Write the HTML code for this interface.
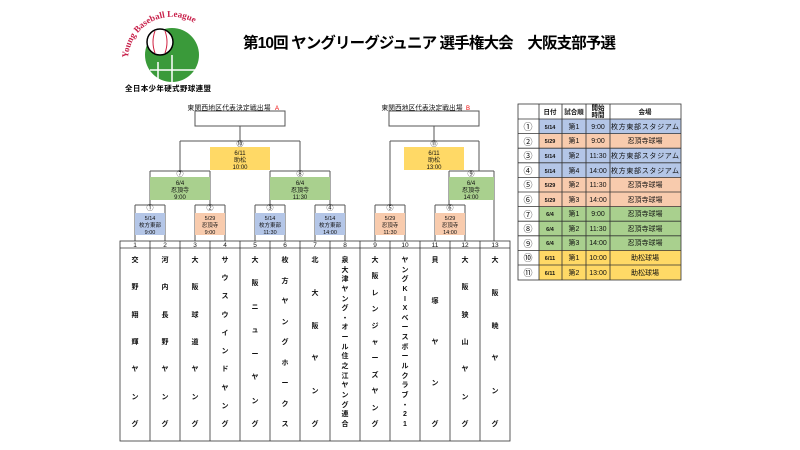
<!DOCTYPE html>
<html><head><meta charset="utf-8"><style>
html,body{margin:0;padding:0;background:#fff;width:800px;height:450px;overflow:hidden}
svg{position:absolute;left:0;top:0}
.t{font-family:"Liberation Sans","Noto Sans CJK JP",sans-serif}
.col{position:absolute;top:257px;height:172px;width:30px;display:flex;flex-direction:column;justify-content:space-between;align-items:center;font-family:"Liberation Sans","Noto Sans CJK JP",sans-serif;font-weight:bold;font-size:7px;line-height:8px;color:#111}
</style></head><body>
<svg width="800" height="450" viewBox="0 0 800 450" class="t">
<!-- logo -->
<circle cx="172" cy="55" r="27" fill="#3a9a3a"/>
<path d="M172 55 L172 82 M150 70 L195 70 M158 62 L158 82" stroke="#fff" stroke-width="1.5" fill="none"/>
<circle cx="160" cy="42" r="13" fill="#fff" stroke="#000" stroke-width="1.5"/>
<path d="M155 31 Q151 42 155 53 M165 31 Q169 42 165 53" stroke="#d02040" stroke-width="1" fill="none"/>
<path id="arc" d="M128 58 A44 44 0 0 1 214 48" fill="none"/>
<text font-family="Liberation Serif,serif" font-size="9" fill="#c8204a" font-weight="bold"><textPath href="#arc">Young Baseball League</textPath></text>
<text x="125" y="91" font-size="7.5" font-weight="bold" textLength="86">全日本少年硬式野球連盟</text>
<!-- title -->
<text x="243" y="48" font-size="15.5" font-weight="bold" textLength="373">第10回 ヤングリーグジュニア 選手権大会　大阪支部予選</text>

<g stroke="#555" stroke-width="1" fill="none">
<rect x="195" y="111" width="90" height="15"/>
<path d="M240 126V141M180 141H300M180 141V171M300 141V171"/>
<path d="M150 171H210M150 171V205M210 171V205M270 171H330M270 171V205M330 171V205"/>
<path d="M135 205H165M135 205V241M165 205V241M195 205H225M195 205V241M225 205V241M255 205H285M255 205V241M285 205V241M315 205H345M315 205V241M345 205V241"/>
<rect x="389" y="111" width="90" height="15"/>
<path d="M434 126V141M390 141H479M390 141V205M479 141V171M449 171H494M449 171V205M494 171V241"/>
<path d="M375 205H405M375 205V241M405 205V241M435 205H465M435 205V241M465 205V241"/>
</g>
<g stroke="none">
<rect x="210" y="147" width="60" height="23" fill="#ffd966"/>
<rect x="150" y="177" width="60" height="23" fill="#a9d08e"/>
<rect x="270" y="177" width="60" height="23" fill="#a9d08e"/>
<rect x="135" y="213" width="30" height="22" fill="#b4c6e7"/>
<rect x="195" y="213" width="30" height="22" fill="#f8cbad"/>
<rect x="255" y="213" width="30" height="22" fill="#b4c6e7"/>
<rect x="315" y="213" width="30" height="22" fill="#b4c6e7"/>
<rect x="404" y="147" width="60" height="23" fill="#ffd966"/>
<rect x="449" y="177" width="45" height="23" fill="#a9d08e"/>
<rect x="375" y="213" width="30" height="22" fill="#f8cbad"/>
<rect x="435" y="213" width="30" height="22" fill="#f8cbad"/>
</g>
<g font-size="6" text-anchor="middle" fill="#111">
<text x="229" y="110" font-size="6.7" textLength="83">東関西地区代表決定戦出場</text><text x="277" y="110" fill="#e00">A</text>
<text x="422" y="110" font-size="6.7" textLength="81">東関西地区代表決定戦出場</text><text x="468" y="110" fill="#e00">B</text>
<g font-size="7"><text x="240" y="146">⑩</text><text x="180" y="176">⑦</text><text x="300" y="176">⑧</text>
<text x="150" y="210">①</text><text x="210" y="210">②</text><text x="270" y="210">③</text><text x="330" y="210">④</text>
<text x="434" y="146">⑪</text><text x="471" y="176">⑨</text><text x="390" y="210">⑤</text><text x="450" y="210">⑥</text></g>
<text x="240" y="155">6/11</text><text x="240" y="162">助松</text><text x="240" y="169">10:00</text>
<text x="180" y="185">6/4</text><text x="180" y="192">忍頂寺</text><text x="180" y="199">9:00</text>
<text x="300" y="185">6/4</text><text x="300" y="192">忍頂寺</text><text x="300" y="199">11:30</text>
<text x="434" y="155">6/11</text><text x="434" y="162">助松</text><text x="434" y="169">13:00</text>
<text x="471" y="185">6/4</text><text x="471" y="192">忍頂寺</text><text x="471" y="199">14:00</text>
<g font-size="5.5">
<text x="150" y="220">5/14</text><text x="150" y="227">枚方東部</text><text x="150" y="234">9:00</text>
<text x="210" y="220">5/29</text><text x="210" y="227">忍頂寺</text><text x="210" y="234">9:00</text>
<text x="270" y="220">5/14</text><text x="270" y="227">枚方東部</text><text x="270" y="234">11:30</text>
<text x="330" y="220">5/14</text><text x="330" y="227">枚方東部</text><text x="330" y="234">14:00</text>
<text x="390" y="220">5/29</text><text x="390" y="227">忍頂寺</text><text x="390" y="234">11:30</text>
<text x="450" y="220">5/29</text><text x="450" y="227">忍頂寺</text><text x="450" y="234">14:00</text>
</g>
<g font-size="6.5">
<text x="135" y="247">1</text><text x="165" y="247">2</text><text x="195" y="247">3</text><text x="225" y="247">4</text><text x="255" y="247">5</text><text x="285" y="247">6</text><text x="315" y="247">7</text><text x="345" y="247">8</text><text x="375" y="247">9</text><text x="405" y="247">10</text><text x="435" y="247">11</text><text x="465" y="247">12</text><text x="495" y="247">13</text>
</g>
</g>
<g stroke="#333" stroke-width="0.8" fill="none">
<rect x="120" y="241" width="390" height="200"/>
<path d="M120 248H510 M150 241V441M180 241V441M210 241V441M240 241V441M270 241V441M300 241V441M330 241V441M360 241V441M390 241V441M420 241V441M450 241V441M480 241V441"/>
</g>

<g stroke="none">
<rect x="539" y="119" width="142" height="14.6" fill="#b4c6e7"/>
<rect x="539" y="133.6" width="142" height="14.6" fill="#f8cbad"/>
<rect x="539" y="148.2" width="142" height="14.6" fill="#b4c6e7"/>
<rect x="539" y="162.8" width="142" height="14.6" fill="#b4c6e7"/>
<rect x="539" y="177.4" width="142" height="14.6" fill="#f8cbad"/>
<rect x="539" y="192" width="142" height="14.6" fill="#f8cbad"/>
<rect x="539" y="206.6" width="142" height="43.8" fill="#a9d08e"/>
<rect x="539" y="250.4" width="142" height="29.6" fill="#ffd966"/>
</g>
<g stroke="#333" stroke-width="0.8" fill="none">
<rect x="518" y="104" width="163" height="176"/>
<path d="M539 104V280M562 104V280M586 104V280M610 104V280"/>
<path d="M518 119H681M518 133.6H681M518 148.2H681M518 162.8H681M518 177.4H681M518 192H681M518 206.6H681M518 221.2H681M518 235.8H681M518 250.4H681M518 265H681"/>
</g>
<g font-size="6.5" text-anchor="middle" fill="#111" font-weight="bold">
<text x="550" y="114">日付</text><text x="574" y="114">試合順</text><text x="598" y="110">開始</text><text x="598" y="117">時間</text><text x="645" y="114">会場</text>
</g>
<g font-size="7" text-anchor="middle" fill="#111">
<g font-size="9"><text x="528" y="130">①</text><text x="528" y="145">②</text><text x="528" y="159">③</text><text x="528" y="174">④</text><text x="528" y="188">⑤</text><text x="528" y="203">⑥</text><text x="528" y="218">⑦</text><text x="528" y="232">⑧</text><text x="528" y="247">⑨</text><text x="528" y="261">⑩</text><text x="528" y="276">⑪</text></g>
<g font-size="5.5" font-weight="bold"><text x="550" y="129">5/14</text><text x="550" y="143">5/29</text><text x="550" y="158">5/14</text><text x="550" y="173">5/14</text><text x="550" y="187">5/29</text><text x="550" y="202">5/29</text><text x="550" y="216">6/4</text><text x="550" y="231">6/4</text><text x="550" y="245">6/4</text><text x="550" y="260">6/11</text><text x="550" y="275">6/11</text></g>
<text x="574" y="129">第1</text><text x="574" y="143">第1</text><text x="574" y="158">第2</text><text x="574" y="173">第4</text><text x="574" y="187">第2</text><text x="574" y="202">第3</text><text x="574" y="216">第1</text><text x="574" y="231">第2</text><text x="574" y="245">第3</text><text x="574" y="260">第1</text><text x="574" y="275">第2</text>
<text x="598" y="129">9:00</text><text x="598" y="143">9:00</text><text x="598" y="158">11:30</text><text x="598" y="173">14:00</text><text x="598" y="187">11:30</text><text x="598" y="202">14:00</text><text x="598" y="216">9:00</text><text x="598" y="231">11:30</text><text x="598" y="245">14:00</text><text x="598" y="260">10:00</text><text x="598" y="275">13:00</text>
<text x="645" y="129" textLength="68">枚方東部スタジアム</text><text x="645" y="143">忍頂寺球場</text><text x="645" y="158" textLength="68">枚方東部スタジアム</text><text x="645" y="173" textLength="68">枚方東部スタジアム</text><text x="645" y="187">忍頂寺球場</text><text x="645" y="202">忍頂寺球場</text><text x="645" y="216">忍頂寺球場</text><text x="645" y="231">忍頂寺球場</text><text x="645" y="245">忍頂寺球場</text><text x="645" y="260">助松球場</text><text x="645" y="275">助松球場</text>
</g>
</svg>

<div class="col" style="left:120px"><span>交</span><span>野</span><span>翔</span><span>輝</span><span>ヤ</span><span>ン</span><span>グ</span></div>
<div class="col" style="left:150px"><span>河</span><span>内</span><span>長</span><span>野</span><span>ヤ</span><span>ン</span><span>グ</span></div>
<div class="col" style="left:180px"><span>大</span><span>阪</span><span>球</span><span>道</span><span>ヤ</span><span>ン</span><span>グ</span></div>
<div class="col" style="left:210px"><span>サ</span><span>ウ</span><span>ス</span><span>ウ</span><span>イ</span><span>ン</span><span>ド</span><span>ヤ</span><span>ン</span><span>グ</span></div>
<div class="col" style="left:240px"><span>大</span><span>阪</span><span>ニ</span><span>ュ</span><span>ー</span><span>ヤ</span><span>ン</span><span>グ</span></div>
<div class="col" style="left:270px"><span>枚</span><span>方</span><span>ヤ</span><span>ン</span><span>グ</span><span>ホ</span><span>ー</span><span>ク</span><span>ス</span></div>
<div class="col" style="left:300px"><span>北</span><span>大</span><span>阪</span><span>ヤ</span><span>ン</span><span>グ</span></div>
<div class="col" style="left:330px"><span>泉</span><span>大</span><span>津</span><span>ヤ</span><span>ン</span><span>グ</span><span>・</span><span>オ</span><span>ー</span><span>ル</span><span>住</span><span>之</span><span>江</span><span>ヤ</span><span>ン</span><span>グ</span><span>連</span><span>合</span></div>
<div class="col" style="left:360px"><span>大</span><span>阪</span><span>レ</span><span>ン</span><span>ジ</span><span>ャ</span><span>ー</span><span>ズ</span><span>ヤ</span><span>ン</span><span>グ</span></div>
<div class="col" style="left:390px"><span>ヤ</span><span>ン</span><span>グ</span><span>K</span><span>I</span><span>X</span><span>ベ</span><span>ー</span><span>ス</span><span>ボ</span><span>ー</span><span>ル</span><span>ク</span><span>ラ</span><span>ブ</span><span>・</span><span>2</span><span>1</span></div>
<div class="col" style="left:420px"><span>貝</span><span>塚</span><span>ヤ</span><span>ン</span><span>グ</span></div>
<div class="col" style="left:450px"><span>大</span><span>阪</span><span>狭</span><span>山</span><span>ヤ</span><span>ン</span><span>グ</span></div>
<div class="col" style="left:480px"><span>大</span><span>阪</span><span>暁</span><span>ヤ</span><span>ン</span><span>グ</span></div>
</body></html>
